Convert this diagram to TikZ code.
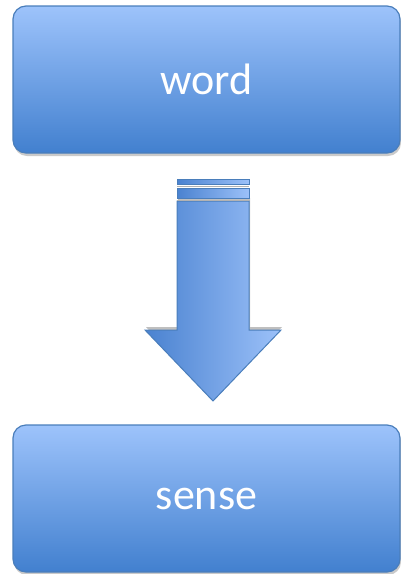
\documentclass[tikz,border=0pt]{standalone}
\usepackage{fontspec}
\setmainfont{Carlito}
\usetikzlibrary{shadows,shadings}
\definecolor{boxtop}{HTML}{9DC3FB}
\definecolor{boxbot}{HTML}{4280CF}
\definecolor{edgeblue}{HTML}{4A7EBB}
\definecolor{arrL}{HTML}{4A82D0}
\definecolor{arrR}{HTML}{9CC1F9}
\tikzset{
  blockbox/.style={draw=edgeblue, line width=1.2pt, rounded corners=13pt,
    top color=boxtop, bottom color=boxbot, minimum width=387pt, minimum height=147pt,
    text=white, font=\fontsize{44}{50}\selectfont,
    drop shadow={shadow xshift=1pt, shadow yshift=-3pt, opacity=0.35, fill=black!60}},
  arrowpart/.style={draw=edgeblue, line width=1pt, left color=arrL, right color=arrR}
}
\begin{document}
\begin{tikzpicture}[x=1pt,y=-1pt]
\useasboundingbox (0,0) rectangle (401,574);
\node[blockbox] (word) at (206.5,79.5) {word};
\node[blockbox] (sense) at (206.5,498.5) {sense};
% arrow
\coordinate (a1) at (177,201);
\coordinate (a2) at (249,201);
\coordinate (a3) at (249,330);
\coordinate (a4) at (281,330);
\coordinate (tip) at (213,401);
\coordinate (a6) at (145,330);
\coordinate (a7) at (177,330);
\fill[black, opacity=0.25] ([xshift=1pt,yshift=3pt]a1) -- ([xshift=1pt,yshift=3pt]a2) -- ([xshift=1pt,yshift=3pt]a3) -- ([xshift=1pt,yshift=3pt]a4) -- ([xshift=1pt,yshift=3pt]tip) -- ([xshift=1pt,yshift=3pt]a6) -- ([xshift=1pt,yshift=3pt]a7) -- cycle;
\path[arrowpart] (a1) -- (a2) -- (a3) -- (a4) -- (tip) -- (a6) -- (a7) -- cycle;
\path[arrowpart] (177,179) rectangle (249,184.5);
\path[arrowpart] (177,188) rectangle (249,198.5);
\draw[gray!60, line width=1pt] (177,186.3) -- (249,186.3);
\draw[gray!60, line width=1pt] (177,200) -- (249,200);
\end{tikzpicture}
\end{document}
